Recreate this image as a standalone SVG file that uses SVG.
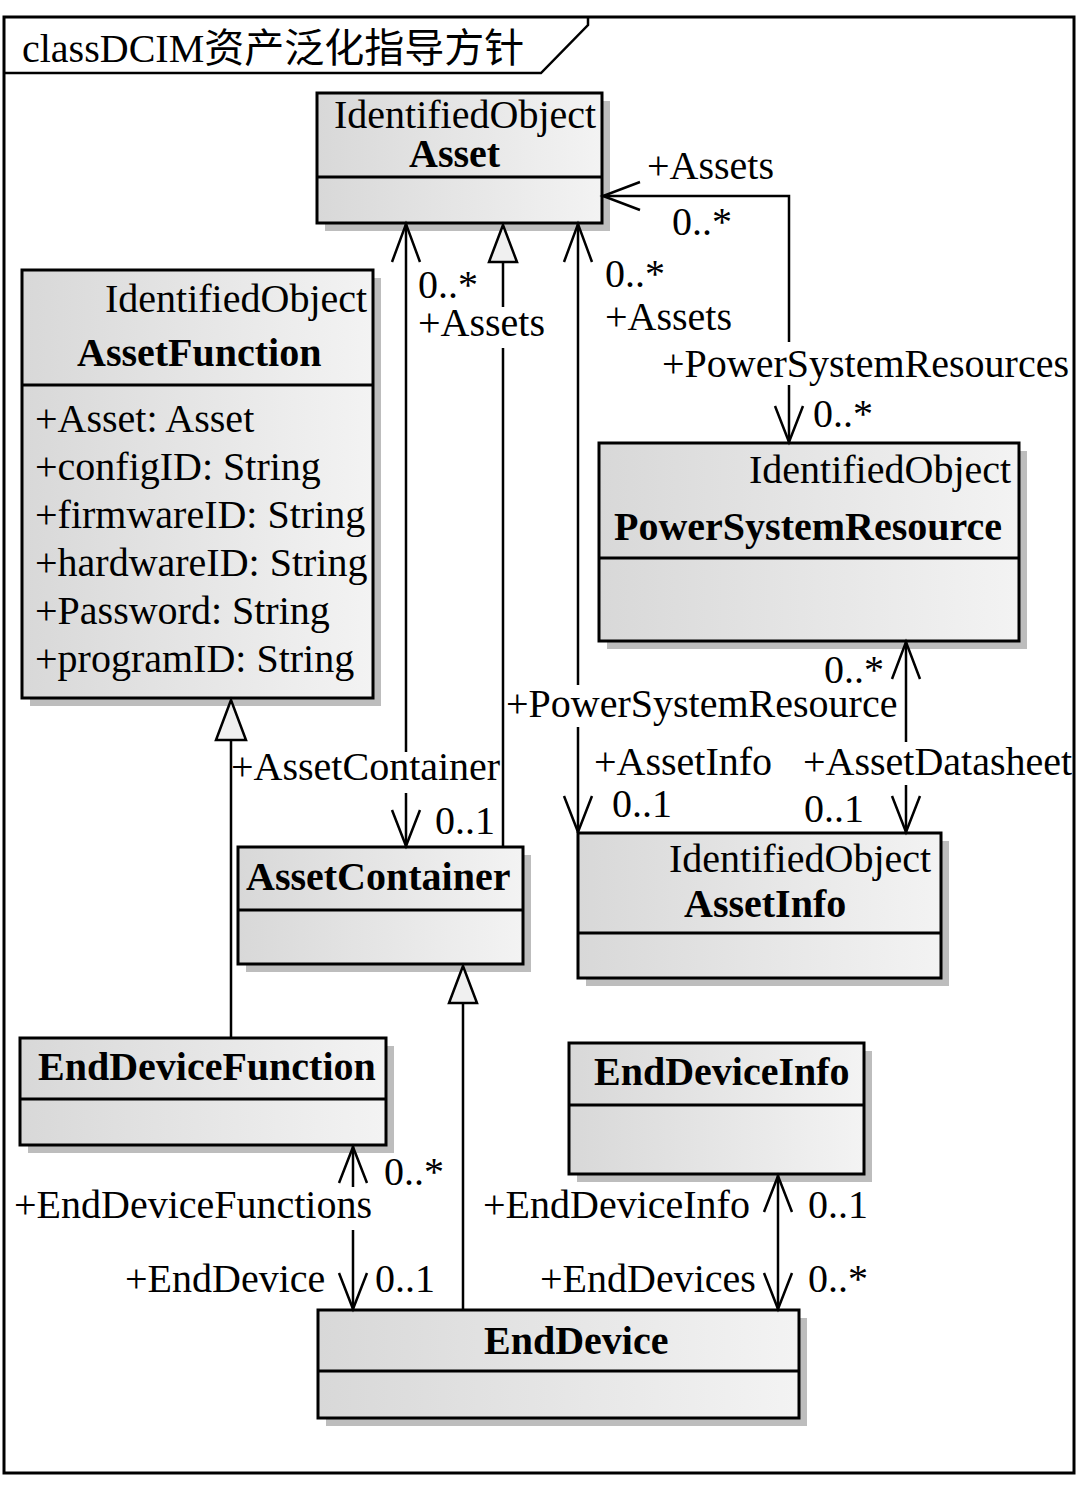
<svg xmlns="http://www.w3.org/2000/svg" width="1080" height="1487" viewBox="0 0 1080 1487">
<style>
text{font-family:"Liberation Serif","Times New Roman","Noto Sans CJK SC",serif;font-size:40px;fill:#000}
.b{font-weight:bold}
.title{font-family:"Liberation Serif","Noto Sans CJK SC",serif}
.box{fill:url(#g);stroke:#000;stroke-width:3}
.sh{fill:#bdbdbd}
.div{stroke:#000;stroke-width:3}
.ln{fill:none;stroke:#000;stroke-width:2.5}
.tri{fill:#f0f0f0;stroke:#000;stroke-width:2.5;stroke-linejoin:miter}
</style>
<defs>
<linearGradient id="g" x1="0" y1="0" x2="1" y2="0">
<stop offset="0" stop-color="#d8d8d8"/>
<stop offset="1" stop-color="#f3f3f3"/>
</linearGradient>
</defs>
<rect x="0" y="0" width="1080" height="1487" fill="#fff"/>
<g id="frame">
<rect x="4" y="17" width="1070" height="1456" fill="#fff" stroke="#000" stroke-width="3"/>
<polyline points="4,73 541,73 588,25 588,17" fill="none" stroke="#000" stroke-width="2.5"/>
<text class="title" x="22" y="62">classDCIM资产泛化指导方针</text>
</g>
<g id="Asset">
<rect class="sh" x="325" y="101" width="285" height="130"/>
<rect class="box" x="317" y="93" width="285" height="130"/>
<line class="div" x1="317" y1="177" x2="602" y2="177"/>
<text x="334" y="128">IdentifiedObject</text>
<text class="b" x="409" y="167">Asset</text>
</g>
<g id="AssetFunction">
<rect class="sh" x="30" y="278" width="351" height="428"/>
<rect class="box" x="22" y="270" width="351" height="428"/>
<line class="div" x1="22" y1="385" x2="373" y2="385"/>
<text x="105" y="312">IdentifiedObject</text>
<text class="b" x="77" y="366">AssetFunction</text>
<text x="35" y="432">+Asset: Asset</text>
<text x="35" y="480">+configID: String</text>
<text x="35" y="528">+firmwareID: String</text>
<text x="35" y="576">+hardwareID: String</text>
<text x="35" y="624">+Password: String</text>
<text x="35" y="672">+programID: String</text>
</g>
<g id="PowerSystemResource">
<rect class="sh" x="607" y="451" width="420" height="198"/>
<rect class="box" x="599" y="443" width="420" height="198"/>
<line class="div" x1="599" y1="558" x2="1019" y2="558"/>
<text x="749" y="483">IdentifiedObject</text>
<text class="b" x="614" y="540">PowerSystemResource</text>
</g>
<g id="AssetContainer">
<rect class="sh" x="246" y="855" width="285" height="117"/>
<rect class="box" x="238" y="847" width="285" height="117"/>
<line class="div" x1="238" y1="910" x2="523" y2="910"/>
<text class="b" x="246" y="890">AssetContainer</text>
</g>
<g id="AssetInfo">
<rect class="sh" x="586" y="841" width="363" height="145"/>
<rect class="box" x="578" y="833" width="363" height="145"/>
<line class="div" x1="578" y1="933" x2="941" y2="933"/>
<text x="669" y="872">IdentifiedObject</text>
<text class="b" x="684" y="917">AssetInfo</text>
</g>
<g id="EndDeviceFunction">
<rect class="sh" x="28" y="1046" width="366" height="107"/>
<rect class="box" x="20" y="1038" width="366" height="107"/>
<line class="div" x1="20" y1="1099" x2="386" y2="1099"/>
<text class="b" x="38" y="1080">EndDeviceFunction</text>
</g>
<g id="EndDeviceInfo">
<rect class="sh" x="577" y="1051" width="295" height="131"/>
<rect class="box" x="569" y="1043" width="295" height="131"/>
<line class="div" x1="569" y1="1105" x2="864" y2="1105"/>
<text class="b" x="594" y="1085">EndDeviceInfo</text>
</g>
<g id="EndDevice">
<rect class="sh" x="326" y="1318" width="481" height="108"/>
<rect class="box" x="318" y="1310" width="481" height="108"/>
<line class="div" x1="318" y1="1371" x2="799" y2="1371"/>
<text class="b" x="484" y="1354">EndDevice</text>
</g>
<g id="connectors">
<path class="ln" d="M602,196 H789 V342 M789,385 V443"/>
<path class="ln" d="M640,182 L603,196 L640,210 M775,406 L789,442 L803,406"/>
<path class="ln" d="M406,224 V752 M406,793 V847"/>
<path class="ln" d="M392,262 L406,224 L420,262 M392,810 L406,846 L420,810"/>
<path class="ln" d="M503,847 V348 M503,307 V262"/>
<path class="tri" d="M503,225 L489,262 L517,262 Z"/>
<path class="ln" d="M578,224 V685 M578,727 V833"/>
<path class="ln" d="M564,262 L578,224 L592,262 M564,796 L578,832 L592,796"/>
<path class="ln" d="M906,641 V742 M906,785 V833"/>
<path class="ln" d="M892,679 L906,642 L920,679 M892,796 L906,832 L920,796"/>
<path class="ln" d="M231,1038 V740"/>
<path class="tri" d="M231,700 L216,740 L246,740 Z"/>
<path class="ln" d="M463,1310 V1003"/>
<path class="tri" d="M463,966 L449,1003 L477,1003 Z"/>
<path class="ln" d="M353,1146 V1187 M353,1230 V1310"/>
<path class="ln" d="M339,1183 L353,1147 L367,1183 M339,1273 L353,1309 L367,1273"/>
<path class="ln" d="M778,1175 V1310"/>
<path class="ln" d="M764,1212 L778,1176 L792,1212 M764,1273 L778,1309 L792,1273"/>
<text x="647" y="179">+Assets</text>
<text x="672" y="235">0..*</text>
<text x="605" y="287">0..*</text>
<text x="605" y="330">+Assets</text>
<text x="662" y="377">+PowerSystemResources</text>
<text x="813" y="427">0..*</text>
<text x="418" y="298">0..*</text>
<text x="418" y="336">+Assets</text>
<text x="231" y="780">+AssetContainer</text>
<text x="435" y="834">0..1</text>
<text x="824" y="683">0..*</text>
<text x="506" y="717">+PowerSystemResource</text>
<text x="594" y="775">+AssetInfo</text>
<text x="803" y="775">+AssetDatasheet</text>
<text x="612" y="817">0..1</text>
<text x="804" y="822">0..1</text>
<text x="384" y="1185">0..*</text>
<text x="14" y="1218">+EndDeviceFunctions</text>
<text x="125" y="1292">+EndDevice</text>
<text x="375" y="1292">0..1</text>
<text x="483" y="1218">+EndDeviceInfo</text>
<text x="808" y="1218">0..1</text>
<text x="540" y="1292">+EndDevices</text>
<text x="808" y="1292">0..*</text>
</g>
</svg>
